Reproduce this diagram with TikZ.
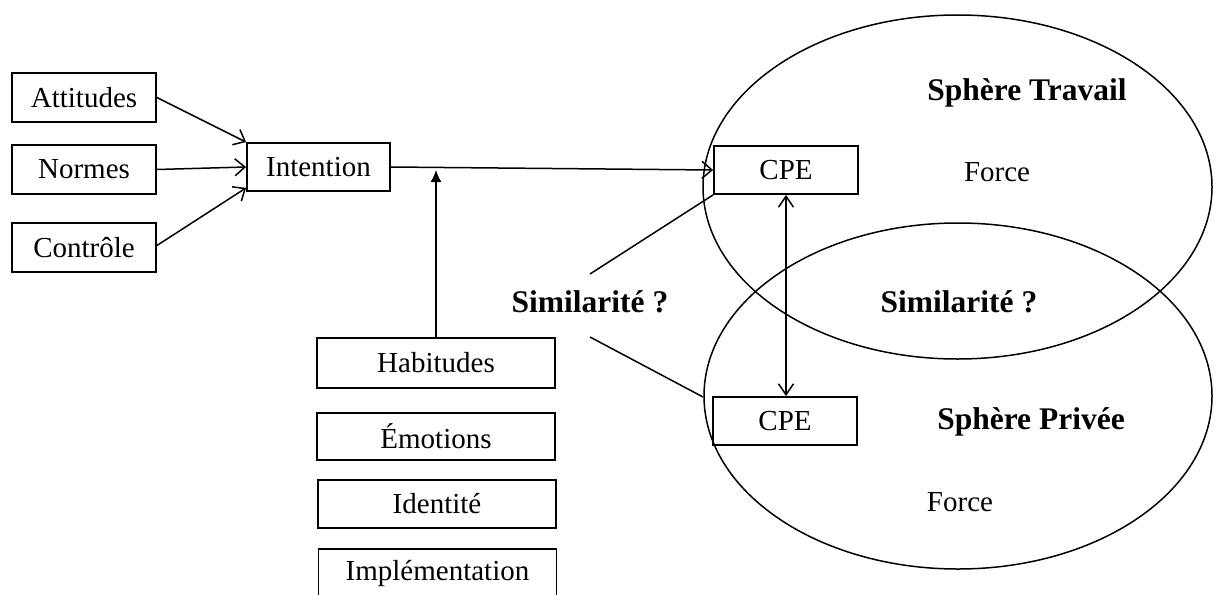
\documentclass[tikz,border=0pt]{standalone}
\usepackage{fontspec}
\setmainfont{Liberation Serif}
\usetikzlibrary{arrows.meta,calc}

\begin{document}
\begin{tikzpicture}[x=1pt,y=-1pt,
  line width=1.8pt,
  txt/.style={font=\fontsize{29}{33}\selectfont, inner sep=0pt},
  boldtxt/.style={font=\fontsize{31.5}{36}\selectfont\bfseries, inner sep=0pt},
  factor/.style={draw, rectangle, txt, minimum width=144pt, minimum height=49pt},
  wide/.style={draw, rectangle, txt, minimum width=238pt, minimum height=48pt},
  open/.style={-{Straight Barb[length=10pt,width=17pt,line width=1.5pt]}},
  both/.style={{Straight Barb[length=11pt,width=15pt,line width=1.5pt]}-{Straight Barb[length=11pt,width=15pt,line width=1.5pt]}},
  solidtip/.style={-{Latex[length=12pt,width=11pt]}},
  link/.style={line width=1.5pt}
]
\useasboundingbox (0,0) rectangle (1217,594);

% the two spheres
\draw[line width=1.5pt] (957.5,187) ellipse [x radius=254.5, y radius=172];
\draw[line width=1.5pt] (958,396) ellipse [x radius=254, y radius=173];

% predictors of intention
\node[factor] (att) at (84,97.5) {Attitudes};
\node[factor] (nor) at (84,169.5) {Normes};
\node[factor] (con) at (84,247.5) {Contrôle};
\node[factor, minimum width=143pt, minimum height=48pt] (int) at (318.5,167) {Intention};

% CPE boxes
\node[factor, minimum height=48pt] (cpe1) at (786,170) {CPE};
\node[factor, minimum height=48pt] (cpe2) at (785,421) {CPE};

% moderators
\node[wide, minimum height=50pt] (hab) at (436,363) {Habitudes};
\node[wide, minimum height=47pt] (emo) at (436,436.5) {Émotions};
\node[wide] (ide) at (437,504) {Identité};
\node[wide] (imp) at (437.5,573) {Implémentation};

% labels inside the spheres
\node[boldtxt] (st) at (1027,93) {Sphère Travail};
\node[txt] (f1) at (997,172) {Force};
\node[boldtxt] (sim2) at (959,302) {Similarité ?};
\node[boldtxt] (sp) at (1031,422) {Sphère Privée};
\node[txt] (f2) at (960,502) {Force};
\node[boldtxt] (sim1) at (590,302) {Similarité ?};

% connectors
\draw[open, link] (att.east) -- (int.north west);
\draw[open, link] (nor.east) -- (int.west);
\draw[open, link] ([yshift=2pt]con.east) -- ([yshift=4pt]int.south west);
\draw[open, link] (int.east) -- (cpe1.west);

\coordinate (hx) at (436,170);
\draw[solidtip, link] (hab.north) -- (hx);

\draw[both, link] (cpe1.south) -- (cpe1.south |- cpe2.north);

\coordinate (s1a) at (590,274);
\coordinate (s1b) at (590,337);
\coordinate (s2end) at (703,397);
\draw[link] (s1a) -- (cpe1.south west);
\draw[link] (s1b) -- (s2end);
\end{tikzpicture}
\end{document}
